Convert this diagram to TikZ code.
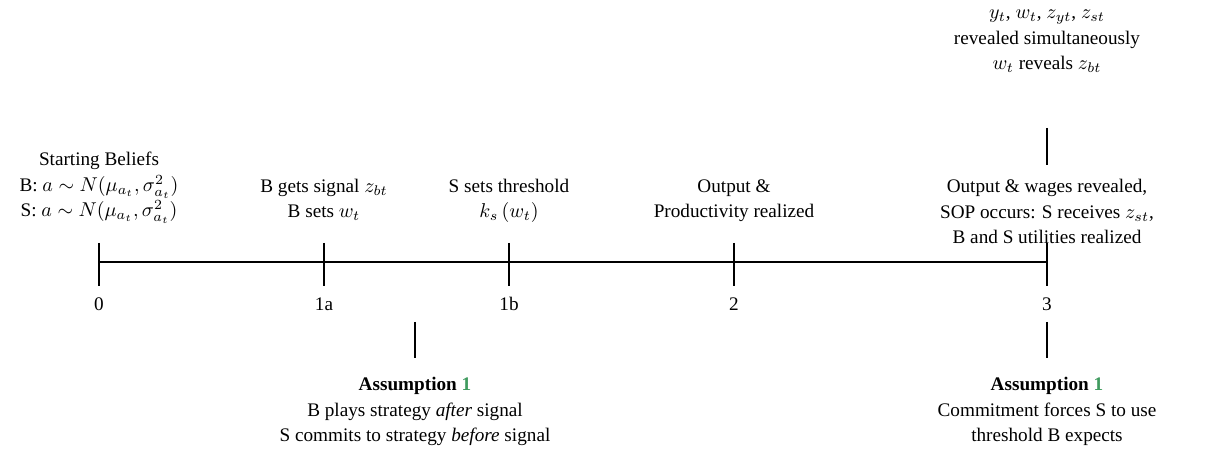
\documentclass[tikz,border=0pt]{standalone}
\usepackage{fontspec}
\setmainfont{Liberation Serif}
\usepackage{amsmath}
\definecolor{refgreen}{RGB}{64,155,95}
\begin{document}
\begin{tikzpicture}[x=0.5pt,y=-0.5pt,
  line/.style={line width=0.8pt},
  lbl/.style={align=center,inner sep=0pt,anchor=base,font=\fontsize{9.6}{12.8}\selectfont},
  tick/.style={line width=0.7pt}]
\useasboundingbox (0,0) rectangle (1207,458);
% timeline
\coordinate (t0) at (99,262);
\coordinate (t1a) at (324,262);
\coordinate (t1b) at (509,262);
\coordinate (t2) at (734,262);
\coordinate (t3) at (1047,262);
\draw[line] (t0) -- (t3);
\foreach \c in {t0,t1a,t1b,t2,t3}{
  \draw[tick] ([yshift=19*0.5pt]\c) -- ([yshift=-24*0.5pt]\c);
}
% tick labels
\node[lbl] (l0) at (99,311) {0};
\node[lbl] (l1a) at (324,311) {1a};
\node[lbl] (l1b) at (509,311) {1b};
\node[lbl] (l2) at (734,311) {2};
\node[lbl] (l3) at (1047,311) {3};
% upper texts (anchor at baseline of last line)
\node[lbl] (sb) at (99,217) {Starting Beliefs\\B: $a\sim N(\mu_{a_t},\sigma^2_{a_t})$\\S: $a\sim N(\mu_{a_t},\sigma^2_{a_t})$};
\node[lbl] (e1a) at (324,218) {B gets signal $z_{bt}$\\B sets $w_t$};
\node[lbl] (e1b) at (509,218) {S sets threshold\\$k_s\left(w_t\right)$};
\node[lbl] (e2) at (734,218) {Output \&\\Productivity realized};
\node[lbl] (e3) at (1047,244) {Output \& wages revealed,\\SOP occurs: S receives $z_{st}$,\\B and S utilities realized};
\node[lbl] (top) at (1047,70) {$y_t$, $w_t$, $z_{yt}$, $z_{st}$\\revealed simultaneously\\$w_t$ reveals $z_{bt}$};
% lower texts
\node[lbl] (a1) at (415,442) {\textbf{Assumption \textcolor{refgreen}{1}}\\B plays strategy \textit{after} signal\\S commits to strategy \textit{before} signal};
\node[lbl] (a2) at (1047,442) {\textbf{Assumption \textcolor{refgreen}{1}}\\Commitment forces S to use\\threshold B expects};
% connectors
\coordinate (c1top) at (415,322);
\coordinate (c1bot) at (415,358);
\coordinate (c2top) at (1047,322);
\coordinate (c2bot) at (1047,358);
\coordinate (c3top) at (1047,128);
\coordinate (c3bot) at (1047,165);
\draw[tick] (c1top) -- (c1bot);
\draw[tick] (c2top) -- (c2bot);
\draw[tick] (c3top) -- (c3bot);
\end{tikzpicture}
\end{document}
